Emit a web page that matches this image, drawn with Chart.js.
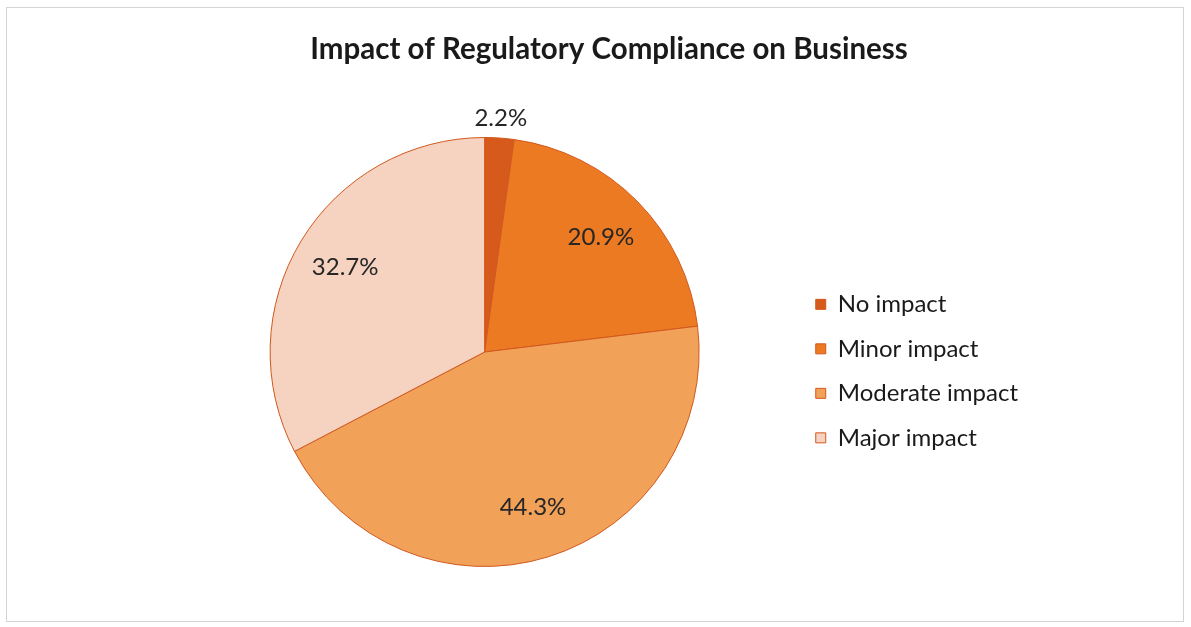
<!DOCTYPE html>
<html>
<head>
<meta charset="utf-8">
<script src="https://cdn.jsdelivr.net/npm/chart.js@4/dist/chart.umd.min.js"></script>
<style>
  html, body { margin: 0; padding: 0; background: #fff; }
  #wrap { position: relative; width: 1191px; height: 627px; }
</style>
</head>
<body>
<div id="wrap"><canvas id="impactChart" width="1191" height="627"></canvas></div>
<script>
// data
const categories = ['No impact', 'Minor impact', 'Moderate impact', 'Major impact'];
const shares = [2.2, 20.9, 44.3, 32.7];
const sliceColors = ['#d65a1c', '#ec7a22', '#f1a158', '#f6d2c0'];
const chartTitle = 'Impact of Regulatory Compliance on Business';

// faint frame around the whole picture
const framePlugin = {
    id: 'frame',
    beforeDraw(chart) {
        const c = chart.ctx;
        c.save();
        c.fillStyle = '#ffffff';
        c.fillRect(0, 0, chart.width, chart.height);
        c.strokeStyle = '#d4d4d4';
        c.lineWidth = 1;
        c.strokeRect(6.5, 7.5, 1177, 614);
        c.restore();
    }
};

// title sits a bit right of the canvas middle, as in the original
const titlePlugin = {
    id: 'offsetTitle',
    afterDraw(chart) {
        const c = chart.ctx;
        c.save();
        c.font = 'bold 29.5px Lato, "Open Sans", sans-serif';
        c.fillStyle = '#1a1a1a';
        c.textAlign = 'center';
        c.textBaseline = 'middle';
        c.fillText(chartTitle, 609, 49);
        c.restore();
    }
};

// percentage labels, small slices go outside
const pctLabels = {
    id: 'pctLabels',
    afterDatasetsDraw(chart) {
        const c = chart.ctx;
        const meta = chart.getDatasetMeta(0);
        c.save();
        c.font = '24px Lato, "Open Sans", sans-serif';
        c.fillStyle = '#262626';
        c.textAlign = 'center';
        c.textBaseline = 'middle';
        meta.data.forEach((arc, i) => {
            const mid = (arc.startAngle + arc.endAngle) / 2;
            const r = shares[i] < 5 ? arc.outerRadius + 20 : arc.outerRadius * 0.76;
            const x = arc.x + Math.cos(mid) * r;
            const y = arc.y + Math.sin(mid) * r;
            c.fillText(shares[i].toFixed(1) + '%', x, y);
        });
        c.restore();
    }
};

const ctx = document.getElementById('impactChart').getContext('2d');
const impactChart = new Chart(ctx, {
    type: 'pie',
    data: {
        labels: categories,
        datasets: [{
            data: shares,
            backgroundColor: sliceColors,
            borderColor: '#d2581e',
            borderWidth: 1
        }]
    },
    options: {
        responsive: false,
        animation: false,
        layout: { padding: { top: 137, left: 174, right: 163, bottom: 60 } },
        plugins: {
            title: { display: false },
            legend: {
                position: 'right',
                title: {
                    display: true,
                    text: ' ',
                    font: { size: 1 },
                    padding: { top: 0, bottom: 37 }
                },
                labels: {
                    boxWidth: 10,
                    boxHeight: 10,
                    padding: 20.5,
                    color: '#1a1a1a',
                    font: { family: 'Lato, "Open Sans", sans-serif', size: 24 }
                }
            },
            tooltip: { enabled: false }
        }
    },
    plugins: [framePlugin, pctLabels, titlePlugin]
});
</script>
</body>
</html>
